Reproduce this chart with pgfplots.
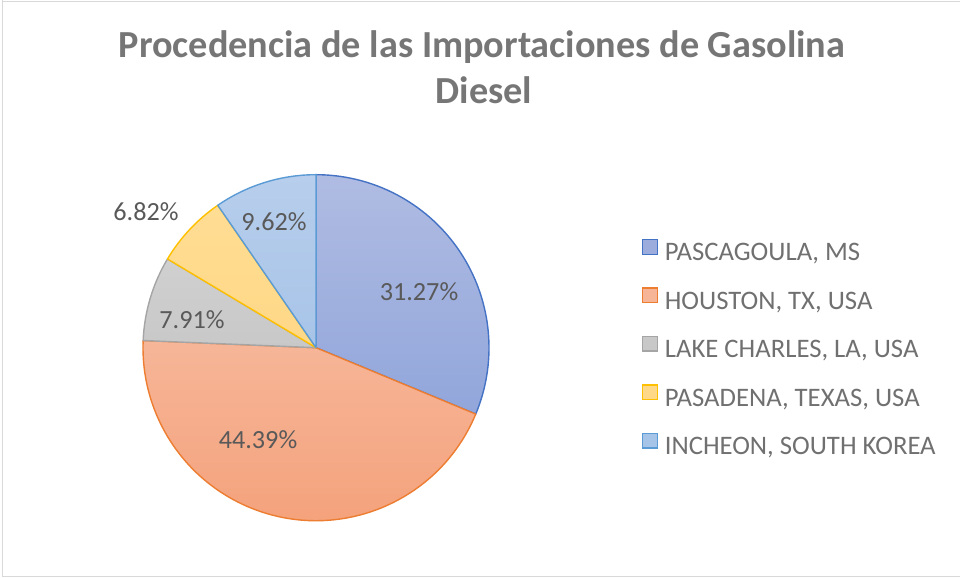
\documentclass[border=0pt]{standalone}
\usepackage{pgfplots}
\pgfplotsset{compat=1.18}
\usepackage{pgfplotstable}
\usepackage{fontspec}
\setmainfont{Carlito}

\definecolor{lnA}{HTML}{4472C4}
\definecolor{lnB}{HTML}{ED7D31}
\definecolor{lnC}{HTML}{A5A5A5}
\definecolor{lnD}{HTML}{FFC000}
\definecolor{lnE}{HTML}{5B9BD5}
\definecolor{tpA}{RGB}{176,188,226}
\definecolor{btA}{RGB}{132,156,216}
\definecolor{tpB}{RGB}{249,200,178}
\definecolor{btB}{RGB}{244,162,124}
\definecolor{tpC}{RGB}{216,216,216}
\definecolor{btC}{RGB}{184,184,184}
\definecolor{tpD}{RGB}{255,222,150}
\definecolor{btD}{RGB}{255,210,120}
\definecolor{tpE}{RGB}{184,206,236}
\definecolor{btE}{RGB}{150,186,228}
\definecolor{mdA}{RGB}{155,172,221}
\definecolor{mdB}{RGB}{246,181,151}
\definecolor{mdC}{RGB}{200,200,200}
\definecolor{mdD}{RGB}{255,216,136}
\definecolor{mdE}{RGB}{166,196,232}
\definecolor{titlegray}{RGB}{118,118,118}
\definecolor{legendgray}{RGB}{112,112,112}
\definecolor{labelgray}{RGB}{89,89,89}
\definecolor{framegray}{RGB}{217,217,217}

\pgfplotstableread{
city value
PASCAGOULA 31.27
HOUSTON 44.39
LAKECHARLES 7.91
PASADENA 6.82
INCHEON 9.62
}\piedata

\begin{document}
\begin{tikzpicture}[x=1bp,y=1bp]
\useasboundingbox (0,0) rectangle (960,578);
\draw[framegray, line width=1.5bp] (2.5,600) -- (2.5,1.5) -- (980,1.5);
\draw[framegray, line width=1.5bp] (2.5,576.5) -- (980,576.5);

\begin{axis}[
  at={(316bp,230.3bp)}, anchor=center,
  width=346bp, height=346bp, scale only axis,
  xmin=-173, xmax=173, ymin=-173, ymax=173,
  hide axis, clip=false,
  legend cell align=left,
  legend style={draw=none, fill=none, inner sep=0pt, outer sep=0pt,
    at={(1.442,0.8142)}, anchor=north west,
    row sep=21.5bp, column sep=7bp,
    font=\fontsize{26.8}{32}\selectfont, text=legendgray,
    nodes={inner sep=0pt, outer sep=0pt, text height=17bp, text depth=5bp}},
  legend image code/.code={\draw[#1, line width=1.3bp] (0.7bp,0.7bp) rectangle (15.3bp,15.3bp);},
]
\pgfplotsextra{%
  \gdef\cum{0}%
  \foreach \i/\lc/\tc/\bc in {0/lnA/tpA/btA,1/lnB/tpB/btB,2/lnC/tpC/btC,3/lnD/tpD/btD,4/lnE/tpE/btE}{%
    \pgfplotstablegetelem{\i}{value}\of\piedata
    \pgfmathsetmacro\a{90-3.6*\cum}%
    \pgfmathsetmacro\newcum{\cum+\pgfplotsretval}%
    \pgfmathsetmacro\b{90-3.6*\newcum}%
    \xdef\cum{\newcum}%
    \pgfmathsetmacro\ax{173*cos(\a)}%
    \pgfmathsetmacro\ay{173*sin(\a)}%
    \begin{scope}
      \clip (axis cs:0,0) -- (axis cs:\ax,\ay) arc[start angle=\a, end angle=\b, radius=173bp] -- cycle;
      \shade[top color=\tc, bottom color=\bc] (axis cs:-180,-175) rectangle (axis cs:180,175);
    \end{scope}
    \draw[\lc, line width=1.4bp, line join=round] (axis cs:0,0) -- (axis cs:\ax,\ay) arc[start angle=\a, end angle=\b, radius=173bp] -- cycle;
  }%
}
\addlegendimage{fill=mdA, draw=lnA}
\addlegendentry{PASCAGOULA, MS}
\addlegendimage{fill=mdB, draw=lnB}
\addlegendentry{HOUSTON, TX, USA}
\addlegendimage{fill=mdC, draw=lnC}
\addlegendentry{LAKE CHARLES, LA, USA}
\addlegendimage{fill=mdD, draw=lnD}
\addlegendentry{PASADENA, TEXAS, USA}
\addlegendimage{fill=mdE, draw=lnE}
\addlegendentry{INCHEON, SOUTH KOREA}

\begin{scope}[every node/.style={font=\fontsize{26.3}{31}\selectfont, text=labelgray, inner sep=0pt}]
\node at (axis cs:103,56) {31.27\%};
\node at (axis cs:-58,-92) {44.39\%};
\node at (axis cs:-124,28) {7.91\%};
\node at (axis cs:-170,136) {6.82\%};
\node at (axis cs:-42,126) {9.62\%};
\end{scope}
\end{axis}

\node[anchor=base, text=titlegray, font=\fontsize{38.4}{46}\bfseries, inner sep=0pt] at (482,520.7) {Procedencia de las Importaciones de Gasolina};
\node[anchor=base, text=titlegray, font=\fontsize{38.4}{46}\bfseries, inner sep=0pt] at (484,474.7) {Diesel};
\end{tikzpicture}
\end{document}
